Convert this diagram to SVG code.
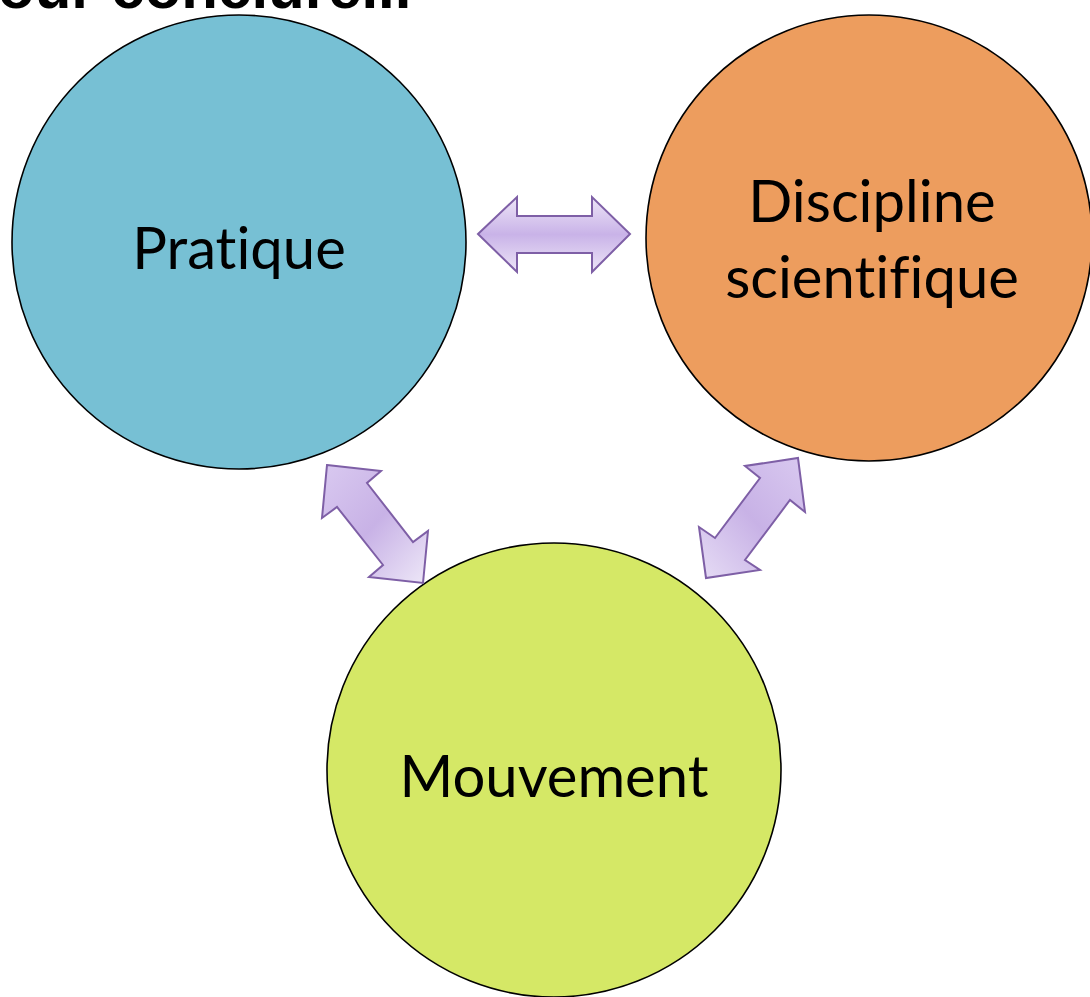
<svg xmlns="http://www.w3.org/2000/svg" width="1090" height="997" viewBox="0 0 1090 997">
<defs>
<linearGradient id="gh" x1="0" y1="0" x2="0" y2="1">
<stop offset="0" stop-color="#EDE5F7"/>
<stop offset="0.5" stop-color="#C9B3E8"/>
<stop offset="1" stop-color="#EDE5F7"/>
</linearGradient>
<linearGradient id="gd1" x1="0" y1="0" x2="1" y2="1">
<stop offset="0" stop-color="#D9C9F0"/>
<stop offset="0.5" stop-color="#C8B2E6"/>
<stop offset="1" stop-color="#EEE8F8"/>
</linearGradient>
<linearGradient id="gd2" x1="1" y1="0" x2="0" y2="1">
<stop offset="0" stop-color="#D9C9F0"/>
<stop offset="0.5" stop-color="#C8B2E6"/>
<stop offset="1" stop-color="#E6DCF5"/>
</linearGradient>
<style>
.node circle{stroke:#000;stroke-width:1.6}
.lbl{font-family:Lato,"Open Sans","Liberation Sans",sans-serif;font-size:58px;fill:#000;text-anchor:middle;font-variant-ligatures:none;font-feature-settings:"liga" 0}
.arrow{stroke:#7E5FA6;stroke-width:2;stroke-linejoin:miter}
</style>
</defs>
<rect width="1090" height="997" fill="#fff"/>
<text x="-42" y="8" font-family="'Liberation Sans',Arial,sans-serif" font-weight="bold" font-size="60" fill="#000">Pour conclure...</text>
<g id="pratique" class="node">
<circle cx="239" cy="242" r="227" fill="#77C0D4"/>
<text class="lbl" x="239" y="269">Pratique</text>
</g>
<g id="discipline" class="node">
<circle cx="869" cy="238" r="223" fill="#ED9D5E"/>
<text class="lbl" x="872" y="222">Discipline</text>
<text class="lbl" x="872" y="298">scientifique</text>
</g>
<g id="mouvement" class="node">
<circle cx="554" cy="770" r="227" fill="#D5E866"/>
<text class="lbl" x="554" y="797">Mouvement</text>
</g>
<g id="connectors">
<polygon class="arrow" fill="url(#gh)" points="478,234 517,197 517,216 592,216 592,197 630,234 592,272 592,253 517,253 517,272"/>
<polygon class="arrow" fill="url(#gd1)" points="327,465 381,471 367,483 413,542 428,531 423,583 369,577 383,565 337,507 322,518"/>
<polygon class="arrow" fill="url(#gd2)" points="798,458 805,512 790,500 745,560 760,570 706,578 699,527 715,538 760,478 745,466"/>
</g>
</svg>
